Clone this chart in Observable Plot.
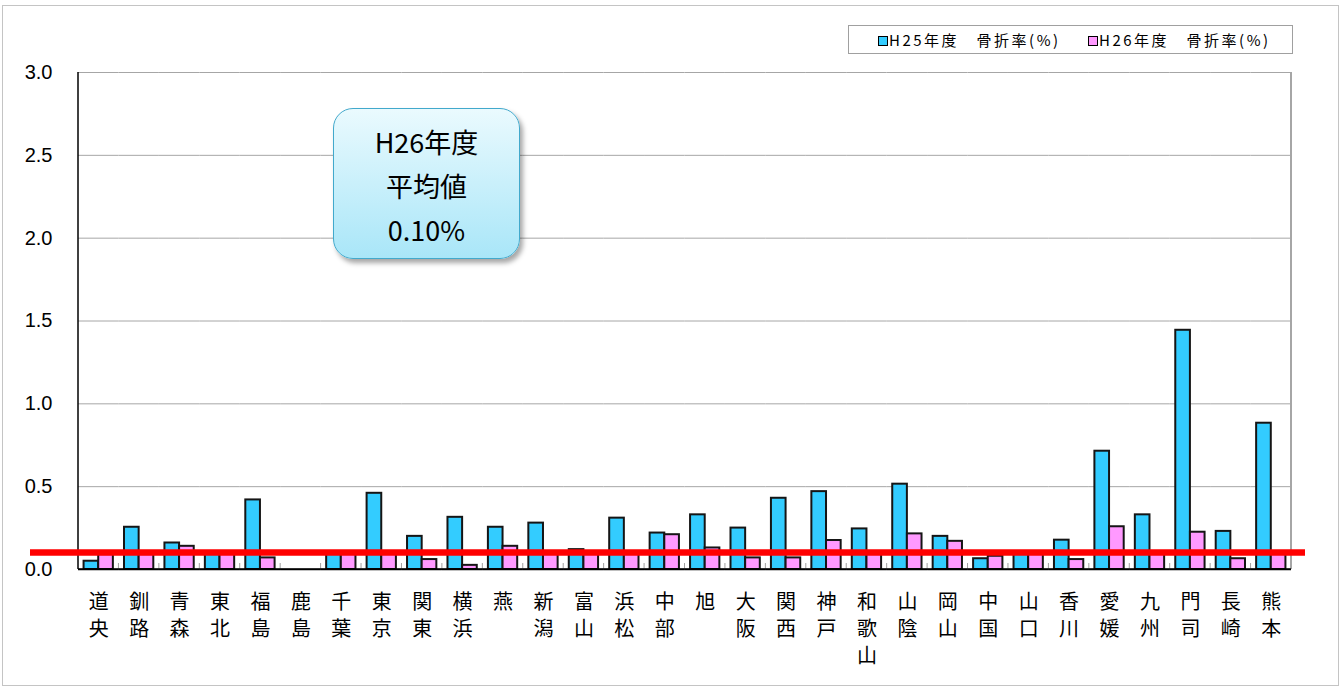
<!DOCTYPE html>
<html>
<head>
<meta charset="utf-8">
<script src="https://cdn.jsdelivr.net/npm/d3@7"></script>
<script src="https://cdn.jsdelivr.net/npm/@observablehq/plot@0.6"></script>
<style>
  html, body { margin: 0; padding: 0; background: #fff; }
  #wrap { position: relative; width: 1342px; height: 686px; overflow: hidden; background: #fff; }
  #outer { position: absolute; left: 2px; top: 5px; width: 1335px; height: 679px; border: 1px solid #c4c4c4; }
  #chart { position: absolute; left: 0; top: 0; }
  #legend { position: absolute; left: 848px; top: 25px; width: 443px; height: 27px; border: 1px solid #a0a0a0; background: #fff;
    font-family: "Noto Sans CJK JP", sans-serif; font-size: 15px; letter-spacing: 2.5px; line-height: 27px; white-space: nowrap; }
  #legend .item { position: absolute; top: 0; }
  #legend .sw { display: inline-block; width: 8px; height: 8px; border: 1px solid #000; margin-right: 1px; vertical-align: 0px; }
  #callout { position: absolute; left: 333px; top: 108px; width: 187px; height: 151px; border-radius: 20px;
    border: 1.5px solid #42a9cc; background: linear-gradient(#eafafe, #a9e6f8);
    box-shadow: 3px 4px 5px rgba(0,0,0,0.35);
    font-family: "Noto Sans CJK JP", sans-serif; font-size: 27px; line-height: 44px; text-align: center; color: #000;
    padding-top: 11px; box-sizing: border-box; }
</style>
</head>
<body>
<div id="wrap">
  <div id="outer"></div>
  <div id="chart"></div>
  <div id="legend"></div>
  <div id="callout"></div>
</div>
<script>
const categories = ["道央","釧路","青森","東北","福島","鹿島","千葉","東京","関東","横浜","燕","新潟","富山","浜松","中部","旭","大阪","関西","神戸","和歌山","山陰","岡山","中国","山口","香川","愛媛","九州","門司","長崎","熊本"];
const seriesNames = ["H25年度　骨折率(%)", "H26年度　骨折率(%)"];
const h25 = [0.05,0.255,0.16,0.10,0.42,null,0.10,0.46,0.20,0.315,0.255,0.28,0.12,0.31,0.22,0.33,0.25,0.43,0.47,0.245,0.515,0.20,0.065,0.10,0.177,0.714,0.33,1.444,0.23,0.883];
const h26 = [0.09,0.09,0.14,0.10,0.07,null,0.10,0.10,0.06,0.025,0.14,0.10,0.10,0.10,0.21,0.13,0.07,0.07,0.175,0.10,0.215,0.17,0.08,0.10,0.06,0.258,0.10,0.225,0.065,0.10];
const seriesColors = ["#33ccff", "#ff99ff"];
const yTicks = [0, 0.5, 1.0, 1.5, 2.0, 2.5, 3.0];
const averageH26 = 0.10;
const calloutLines = ["H26年度", "平均値", "0.10%"];

// every category keeps its rows (a missing value stays null, so no bar is drawn but the facet is not empty)
const rows = [];
categories.forEach((c, i) => {
  rows.push({cat: c, series: seriesNames[0], value: h25[i]});
  rows.push({cat: c, series: seriesNames[1], value: h26[i]});
});

const plot = Plot.plot({
  width: 1342, height: 686,
  marginLeft: 78, marginRight: 51, marginTop: 72, marginBottom: 117,
  fx: {domain: categories, padding: 0, round: false, label: null},
  x: {domain: seriesNames, paddingInner: 0, paddingOuter: 0.38, round: false, axis: null},
  y: {domain: [0, 3], label: null},
  color: {domain: seriesNames, range: seriesColors},
  marks: [
    Plot.gridY(yTicks.filter(d => d > 0), {stroke: "#a6a6a6", strokeOpacity: 1, strokeWidth: 1}),
    Plot.barY(rows, {fx: "cat", x: "series", y: "value", fill: "series", stroke: "#151515", strokeWidth: 2}),
    Plot.ruleY([0], {stroke: "#000", strokeWidth: 1.5}),
    Plot.axisY(yTicks, {facetAnchor: "left", tickSize: 0, tickPadding: 26, tickFormat: d => d.toFixed(1), fontSize: 20, fontFamily: "Liberation Sans, Arial, sans-serif", fill: "#000", label: null}),
    Plot.axisFx({anchor: "bottom", tickSize: 0, tickPadding: 21, tickFormat: d => [...d].join("\n"), fontSize: 20, lineHeight: 1.33, fontFamily: "Noto Sans CJK JP, sans-serif", fill: "#000", label: null})
  ]
});
document.getElementById("chart").appendChild(plot);

// frame lines, category ticks and average line, positioned with the plot's scales
const fx = plot.scale("fx");
const ys = plot.scale("y");
const [fx0, fx1] = fx.range;
const y0 = ys.apply(0), yTop = ys.apply(3);
const g = d3.select(plot).append("g");
categories.slice(1).forEach(c => {
  const xb = fx.apply(c);
  g.append("line").attr("x1", xb).attr("x2", xb).attr("y1", y0).attr("y2", y0 - 6).attr("stroke", "#a0a0a0").attr("stroke-width", 1);
});
g.append("line").attr("x1", fx1).attr("x2", fx1).attr("y1", yTop).attr("y2", y0).attr("stroke", "#a6a6a6").attr("stroke-width", 2);
g.append("line").attr("x1", fx0).attr("x2", fx0).attr("y1", yTop).attr("y2", y0).attr("stroke", "#000").attr("stroke-width", 1.5);
g.append("line").attr("x1", fx0).attr("x2", fx1).attr("y1", y0).attr("y2", y0).attr("stroke", "#000").attr("stroke-width", 1.5);
const yr = ys.apply(averageH26);
g.append("line").attr("x1", fx0 - 48).attr("x2", fx1 + 14).attr("y1", yr).attr("y2", yr).attr("stroke", "#ff0000").attr("stroke-width", 6.5);

// legend
const legend = document.getElementById("legend");
const legendLeft = [29, 239];
seriesNames.forEach((s, i) => {
  const it = document.createElement("span");
  it.className = "item";
  it.style.left = legendLeft[i] + "px";
  it.innerHTML = `<span class="sw" style="background:${seriesColors[i]}"></span>${s}`;
  legend.appendChild(it);
});

// callout
document.getElementById("callout").innerHTML = calloutLines.join("<br>");
</script>
</body>
</html>
